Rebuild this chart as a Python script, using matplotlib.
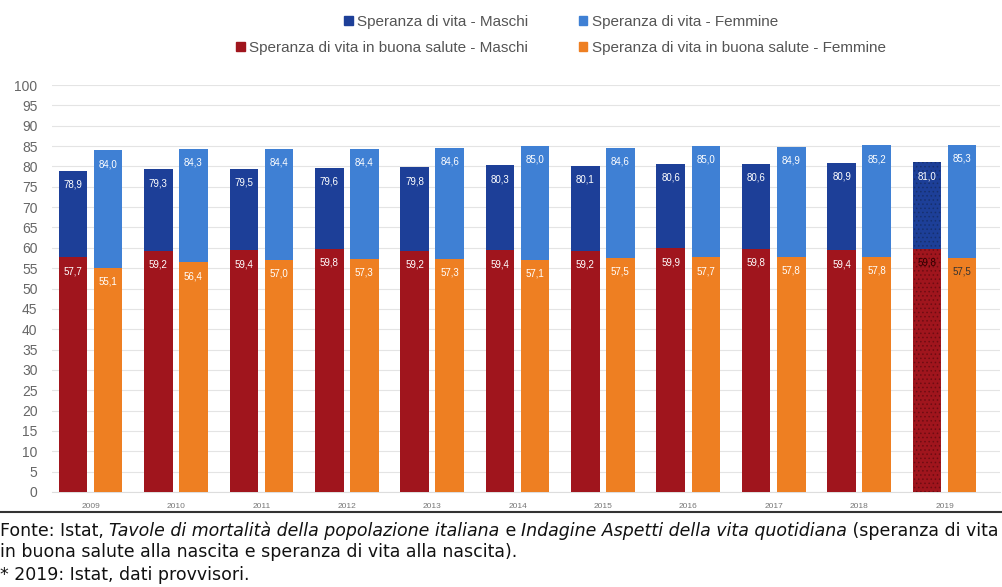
import matplotlib.pyplot as plt
import numpy as np
from matplotlib.patches import Patch

plt.rcParams['font.family'] = ['Liberation Sans', 'DejaVu Sans']
plt.rcParams['hatch.linewidth'] = 0.6

anni = ["2009", "2010", "2011", "2012", "2013", "2014", "2015", "2016", "2017", "2018", "2019"]
vita_m = [78.9, 79.3, 79.5, 79.6, 79.8, 80.3, 80.1, 80.6, 80.6, 80.9, 81.0]
vita_f = [84.0, 84.3, 84.4, 84.4, 84.6, 85.0, 84.6, 85.0, 84.9, 85.2, 85.3]
salute_m = [57.7, 59.2, 59.4, 59.8, 59.2, 59.4, 59.2, 59.9, 59.8, 59.4, 59.8]
salute_f = [55.1, 56.4, 57.0, 57.3, 57.3, 57.1, 57.5, 57.7, 57.8, 57.8, 57.5]

c_vm, c_vf, c_sm, c_sf = "#1d3f98", "#3f80d4", "#a0151d", "#ee7f22"

fig = plt.figure(figsize=(10.02, 5.87), dpi=100)
ax = fig.add_axes([0.052, 0.162, 0.946, 0.693])

x = np.arange(len(anni))
w = 0.335
off = 0.205
for i in range(len(anni)):
    prov = anni[i] == "2019"
    h = "...." if prov else None
    for xx, tot, hs, ct, cs in [(x[i] - off, vita_m[i], salute_m[i], c_vm, c_sm),
                                (x[i] + off, vita_f[i], salute_f[i], c_vf, c_sf)]:
        ax.bar(xx, tot, w, color=ct, hatch=h, edgecolor="#16306f" if prov and ct == c_vm else ct,
               linewidth=0, zorder=2)
        ax.bar(xx, hs, w, color=cs, hatch=h, edgecolor="#6e0c12" if prov and cs == c_sm else cs,
               linewidth=0, zorder=3)
        tc = "#333333" if prov and cs == c_sf else ("#300000" if prov else "white")
        ax.text(xx, tot - 3.4, f"{tot:.1f}".replace(".", ","), ha="center", va="center",
                fontsize=7, color="white", zorder=4)
        ax.text(xx, hs - 3.4, f"{hs:.1f}".replace(".", ","), ha="center", va="center",
                fontsize=7, color=tc, zorder=4)

# legend: each row centred on its own
rows = [[(c_vm, "Speranza di vita - Maschi"), (c_vf, "Speranza di vita - Femmine")],
        [(c_sm, "Speranza di vita in buona salute - Maschi"), (c_sf, "Speranza di vita in buona salute - Femmine")]]
for k, row in enumerate(rows):
    handles = [Patch(color=c, label=l) for c, l in row]
    leg = fig.legend(handles=handles, loc="center", bbox_to_anchor=(0.56, 0.963 - k * 0.045), ncol=2,
                     frameon=False, fontsize=11, handlelength=0.55, handleheight=0.55, handletextpad=0.3,
                     columnspacing=3.3, borderpad=0)
    for t in leg.get_texts():
        t.set_color("#555555")

ax.set_ylim(0, 100)
ax.set_xlim(-0.45, 10.65)
ax.set_yticks(range(0, 101, 5))
ax.set_xticks(x)
ax.set_xticklabels(anni)
ax.tick_params(axis="y", labelsize=10, colors="#666666", length=0, pad=10.5)
ax.tick_params(axis="x", labelsize=6, colors="#777777", length=0, pad=8)
ax.grid(axis="y", color="#e4e4e4", linewidth=0.8, zorder=0)
ax.set_axisbelow(True)
for s in ["top", "right", "left"]:
    ax.spines[s].set_visible(False)
ax.spines["bottom"].set_color("#dddddd")

# separator line
fig.add_artist(plt.Line2D([0, 1], [0.128, 0.128], color="#333333", linewidth=1.5))

# footer with italic pieces
foot = dict(fontsize=12.5, color="#111111", va="center", family=["DejaVu Sans"])
fig.canvas.draw()
r = fig.canvas.get_renderer()
parts = [("Fonte: Istat, ", "normal"),
         ("Tavole di mortalità della popolazione italiana", "italic"),
         (" e ", "normal"),
         ("Indagine Aspetti della vita quotidiana", "italic"),
         (" (speranza di vita", "normal")]
xp = 0.0
for txt, st in parts:
    t = fig.text(xp, 0.096, txt, style=st, **foot)
    bb = t.get_window_extent(renderer=r)
    xp += bb.width / fig.bbox.width
fig.text(0.0, 0.059, "in buona salute alla nascita e speranza di vita alla nascita).", **foot)
fig.text(0.0, 0.021, "* 2019: Istat, dati provvisori.", **foot)

plt.savefig("out.png", dpi=100)
